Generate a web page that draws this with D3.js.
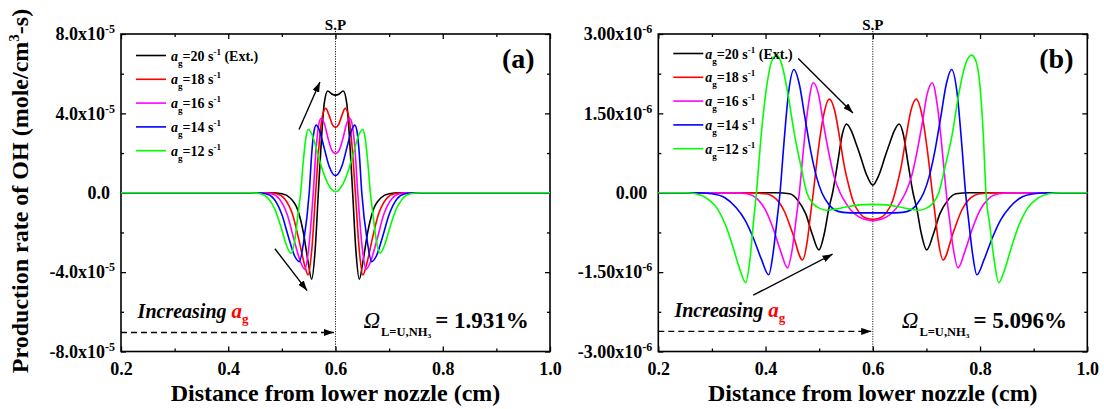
<!DOCTYPE html>
<html>
<head>
<meta charset="utf-8">
<script src="https://cdn.jsdelivr.net/npm/d3@7"></script>
<style>
  body { margin: 0; background: #fff; }
  svg text { font-family: "Liberation Serif", "Times New Roman", serif; font-weight: bold; fill: #000; }
</style>
</head>
<body>
<div id="chart"></div>
<script>
// =============================================
// data
// x in cm, y in 1e-5 (panel a) or 1e-6 (panel b) mole/cm3-s
const strainRates  = [20, 18, 16, 14, 12];
const seriesColors = ['#000000', '#ff0000', '#ff00ff', '#0000ff', '#00ff00'];

const ohA20 = [[0.2,0],[0.48,0],[0.50,-0.05],[0.515,-0.25],[0.53,-0.9],[0.54,-2.0],[0.549,-3.5],[0.5555,-4.36],[0.562,-2.9],[0.568,0],[0.574,2.8],[0.579,4.5],[0.5855,5.13],[0.593,4.98],[0.600,4.92],[0.607,4.98],[0.6145,5.13],[0.621,4.5],[0.626,2.8],[0.632,0],[0.638,-2.9],[0.6445,-4.36],[0.651,-3.5],[0.660,-2.0],[0.670,-0.9],[0.685,-0.25],[0.70,-0.05],[0.72,0],[1.0,0]];
const ohA18 = [[0.2,0],[0.47,0],[0.49,-0.05],[0.505,-0.3],[0.52,-1.1],[0.532,-2.4],[0.542,-3.6],[0.549,-4.14],[0.556,-2.8],[0.563,0],[0.569,2.3],[0.575,3.8],[0.582,4.25],[0.588,3.9],[0.594,3.45],[0.600,3.29],[0.606,3.45],[0.612,3.9],[0.618,4.25],[0.625,3.8],[0.631,2.3],[0.637,0],[0.644,-2.8],[0.651,-4.14],[0.658,-3.6],[0.668,-2.4],[0.680,-1.1],[0.695,-0.3],[0.71,-0.05],[0.73,0],[1.0,0]];
const ohA16 = [[0.2,0],[0.46,0],[0.48,-0.05],[0.495,-0.3],[0.51,-1.1],[0.523,-2.4],[0.535,-3.5],[0.543,-3.86],[0.550,-2.8],[0.5585,0],[0.564,2.3],[0.568,3.3],[0.573,3.74],[0.579,3.5],[0.586,2.75],[0.593,2.15],[0.600,1.98],[0.607,2.15],[0.614,2.75],[0.621,3.5],[0.627,3.74],[0.632,3.3],[0.636,2.3],[0.6415,0],[0.650,-2.8],[0.657,-3.86],[0.665,-3.5],[0.677,-2.4],[0.690,-1.1],[0.705,-0.3],[0.72,-0.05],[0.74,0],[1.0,0]];
const ohA14 = [[0.2,0],[0.45,0],[0.47,-0.05],[0.485,-0.3],[0.50,-1.1],[0.512,-2.2],[0.524,-3.2],[0.5325,-3.47],[0.541,-2.4],[0.551,0],[0.556,2.1],[0.560,3.1],[0.564,3.41],[0.570,3.15],[0.578,2.35],[0.588,1.35],[0.600,0.86],[0.612,1.35],[0.622,2.35],[0.630,3.15],[0.636,3.41],[0.640,3.1],[0.644,2.1],[0.649,0],[0.659,-2.4],[0.6675,-3.47],[0.676,-3.2],[0.688,-2.2],[0.700,-1.1],[0.715,-0.3],[0.73,-0.05],[0.75,0],[1.0,0]];
const ohA12 = [[0.2,0],[0.44,0],[0.46,-0.05],[0.475,-0.3],[0.488,-0.9],[0.498,-1.7],[0.508,-2.6],[0.517,-3.05],[0.524,-2.4],[0.530,-1.1],[0.535,0],[0.540,1.6],[0.545,2.8],[0.549,3.19],[0.556,2.95],[0.565,2.15],[0.574,1.3],[0.586,0.45],[0.600,0.05],[0.614,0.45],[0.626,1.3],[0.635,2.15],[0.644,2.95],[0.651,3.19],[0.655,2.8],[0.660,1.6],[0.665,0],[0.670,-1.1],[0.676,-2.4],[0.683,-3.05],[0.692,-2.6],[0.702,-1.7],[0.712,-0.9],[0.725,-0.3],[0.74,-0.05],[0.76,0],[1.0,0]];

const ohB20 = [[0.2,0],[0.42,0],[0.445,-0.02],[0.46,-0.14],[0.475,-0.4],[0.487,-0.78],[0.4995,-1.08],[0.51,-0.75],[0.518,-0.3],[0.525,0],[0.535,0.6],[0.543,1.1],[0.551,1.30],[0.560,1.17],[0.568,0.95],[0.576,0.72],[0.588,0.35],[0.600,0.145],[0.612,0.35],[0.624,0.72],[0.632,0.95],[0.640,1.17],[0.649,1.30],[0.657,1.1],[0.665,0.6],[0.675,0],[0.682,-0.3],[0.690,-0.75],[0.7005,-1.08],[0.713,-0.78],[0.725,-0.4],[0.74,-0.14],[0.755,-0.02],[0.78,0],[1.0,0]];
const ohB18 = [[0.2,0],[0.37,0],[0.40,-0.02],[0.42,-0.12],[0.435,-0.35],[0.45,-0.75],[0.469,-1.27],[0.478,-0.9],[0.484,-0.4],[0.489,0],[0.497,0.7],[0.507,1.4],[0.519,1.77],[0.529,1.55],[0.538,1.05],[0.547,0.5],[0.556,0.1],[0.563,-0.15],[0.575,-0.38],[0.588,-0.48],[0.600,-0.50],[0.612,-0.48],[0.625,-0.38],[0.637,-0.15],[0.644,0.1],[0.653,0.5],[0.662,1.05],[0.671,1.55],[0.681,1.77],[0.693,1.4],[0.703,0.7],[0.711,0],[0.716,-0.4],[0.722,-0.9],[0.731,-1.27],[0.75,-0.75],[0.765,-0.35],[0.78,-0.12],[0.80,-0.02],[0.83,0],[1.0,0]];
const ohB16 = [[0.2,0],[0.34,0],[0.365,-0.02],[0.385,-0.12],[0.40,-0.33],[0.415,-0.7],[0.428,-1.1],[0.441,-1.42],[0.450,-1.05],[0.457,-0.5],[0.463,0],[0.470,0.75],[0.479,1.6],[0.489,2.08],[0.499,1.85],[0.508,1.3],[0.518,0.75],[0.528,0.3],[0.539,0],[0.550,-0.2],[0.562,-0.36],[0.575,-0.46],[0.588,-0.51],[0.600,-0.53],[0.612,-0.51],[0.625,-0.46],[0.638,-0.36],[0.650,-0.2],[0.661,0],[0.672,0.3],[0.682,0.75],[0.692,1.3],[0.701,1.85],[0.711,2.08],[0.721,1.6],[0.730,0.75],[0.737,0],[0.743,-0.5],[0.750,-1.05],[0.759,-1.42],[0.772,-1.1],[0.785,-0.7],[0.80,-0.33],[0.815,-0.12],[0.835,-0.02],[0.86,0],[1.0,0]];
const ohB14 = [[0.2,0],[0.27,0],[0.30,-0.02],[0.325,-0.1],[0.345,-0.28],[0.362,-0.52],[0.377,-0.85],[0.392,-1.25],[0.406,-1.55],[0.414,-1.15],[0.421,-0.55],[0.427,0],[0.434,0.9],[0.443,1.9],[0.453,2.33],[0.463,2.05],[0.473,1.45],[0.484,0.8],[0.495,0.3],[0.505,0],[0.518,-0.22],[0.530,-0.33],[0.545,-0.37],[0.570,-0.38],[0.600,-0.38],[0.630,-0.38],[0.655,-0.37],[0.670,-0.33],[0.682,-0.22],[0.695,0],[0.705,0.3],[0.716,0.8],[0.727,1.45],[0.737,2.05],[0.747,2.33],[0.757,1.9],[0.766,0.9],[0.773,0],[0.779,-0.55],[0.786,-1.15],[0.794,-1.55],[0.808,-1.25],[0.823,-0.85],[0.838,-0.52],[0.855,-0.28],[0.875,-0.1],[0.90,-0.02],[0.93,0],[1.0,0]];
const ohB12 = [[0.2,0],[0.25,0],[0.27,-0.02],[0.29,-0.1],[0.31,-0.3],[0.325,-0.6],[0.34,-1.05],[0.352,-1.45],[0.363,-1.70],[0.371,-1.25],[0.377,-0.6],[0.383,0],[0.392,1.1],[0.402,2.0],[0.412,2.5],[0.421,2.60],[0.431,2.4],[0.442,1.85],[0.454,1.1],[0.466,0.5],[0.477,0],[0.490,-0.22],[0.502,-0.30],[0.514,-0.33],[0.530,-0.31],[0.550,-0.27],[0.575,-0.23],[0.600,-0.22],[0.625,-0.23],[0.650,-0.27],[0.670,-0.31],[0.686,-0.33],[0.698,-0.30],[0.710,-0.22],[0.723,0],[0.735,0.5],[0.748,1.1],[0.760,1.85],[0.772,2.4],[0.784,2.60],[0.792,2.5],[0.800,2.0],[0.806,1.1],[0.811,0],[0.818,-0.6],[0.826,-1.25],[0.835,-1.70],[0.846,-1.45],[0.858,-1.05],[0.873,-0.6],[0.888,-0.3],[0.908,-0.1],[0.928,-0.02],[0.95,0],[1.0,0]];

// ticks and labels
const xTicks  = [0.2, 0.4, 0.6, 0.8, 1.0];
const xMinor  = [0.3, 0.5, 0.7, 0.9];
const yTicksA = [-8, -4, 0, 4, 8];
const yMinorA = [-6, -2, 2, 6];
const yLabelsA = ['-8.0', '-4.0', '0.0', '4.0', '8.0'];
const yTicksB = [-3, -1.5, 0, 1.5, 3];
const yMinorB = [-2.25, -0.75, 0.75, 2.25];
const yLabelsB = ['-3.00', '-1.50', '0.00', '1.50', '3.00'];
const omegaA = '1.931%';
const omegaB = '5.096%';

// =============================================
// layout
const W = 1104, H = 409;
const plotW = 429, plotH = 317.5;

let svg = d3.select('#chart')
            .append('svg')
            .attr('width', W)
            .attr('height', H);

let defs = svg.append('defs');
defs.append('marker')
    .attr('id', 'head')
    .attr('viewBox', '0 0 10 7')
    .attr('refX', 10).attr('refY', 3.5)
    .attr('markerUnits', 'userSpaceOnUse')
    .attr('markerWidth', 10).attr('markerHeight', 7)
    .attr('orient', 'auto')
    .append('path').attr('d', 'M0,0 L10,3.5 L0,7 Z').attr('fill', '#000');

const panels = [
  { left: 121, top: 34, series: [ohA20, ohA18, ohA16, ohA14, ohA12],
    yDomain: [-8, 8], yTicks: yTicksA, yMinor: yMinorA, yLabels: yLabelsA, exp: '-5',
    tag: '(a)', omega: omegaA, legendY: 21.5, legendTextX: 50,
    arrows: [[[0.532, 3.19], [0.571, 5.58]], [[0.487, -2.82], [0.547, -4.93]]],
    dashY: -7.04, incPos: [0.231, -6.32], omegaPos: [0.652, -6.81] },
  { left: 658.3, top: 34, series: [ohB20, ohB18, ohB16, ohB14, ohB12],
    yDomain: [-3, 3], yTicks: yTicksB, yMinor: yMinorB, yLabels: yLabelsB, exp: '-6',
    tag: '(b)', omega: omegaB, legendY: 19.5, legendTextX: 47,
    arrows: [[[0.461, 2.536], [0.563, 1.509]], [[0.377, -1.936], [0.525, -1.162]]],
    dashY: -2.62, incPos: [0.230, -2.34], omegaPos: [0.654, -2.55] }
];

function styleAxis(sel) {
  sel.select('.domain').remove();
  sel.selectAll('.tick line').attr('stroke', '#000').attr('stroke-width', 1.3);
  sel.selectAll('.tick text').attr('font-size', 18).attr('fill', '#000')
     .attr('font-family', '"Liberation Serif", serif').attr('font-weight', 'bold');
}

function drawPanel(p) {
  let g = svg.append('g').attr('transform', `translate(${p.left},${p.top})`);
  let x = d3.scaleLinear().domain([0.2, 1.0]).range([0, plotW]);
  let y = d3.scaleLinear().domain(p.yDomain).range([plotH, 0]);

  // minor ticks on all four sides
  g.append('g').attr('transform', `translate(0,${plotH})`)
   .call(d3.axisBottom(x).tickValues(xMinor).tickSize(-3).tickFormat('')).call(styleAxis);
  g.append('g').call(d3.axisTop(x).tickValues(xMinor).tickSize(-3).tickFormat('')).call(styleAxis);
  g.append('g').call(d3.axisLeft(y).tickValues(p.yMinor).tickSize(-3).tickFormat('')).call(styleAxis);
  g.append('g').attr('transform', `translate(${plotW},0)`)
   .call(d3.axisRight(y).tickValues(p.yMinor).tickSize(-3).tickFormat('')).call(styleAxis);

  // major ticks
  g.append('g').attr('transform', `translate(0,${plotH})`)
   .call(d3.axisBottom(x).tickValues(xTicks).tickSize(-5).tickPadding(11).tickFormat(d3.format('.1f')))
   .call(styleAxis);
  g.append('g').call(d3.axisTop(x).tickValues(xTicks).tickSize(-5).tickFormat('')).call(styleAxis);
  g.append('g').attr('transform', `translate(${plotW},0)`)
   .call(d3.axisRight(y).tickValues(p.yTicks).tickSize(-5).tickFormat('')).call(styleAxis);

  let yAxis = g.append('g')
               .call(d3.axisLeft(y).tickValues(p.yTicks).tickSize(-5).tickPadding(6).tickFormat(''))
               .call(styleAxis);
  yAxis.selectAll('.tick text').each(function(d) {
    let t = d3.select(this);
    let lab = p.yLabels[p.yTicks.indexOf(d)];
    if (d === 0) {
      t.attr('x', -11).text(lab);
    } else {
      t.append('tspan').text(lab + 'x10');
      t.append('tspan').attr('font-size', 12).attr('dy', -7).text(p.exp);
    }
  });

  // frame
  g.append('rect')
   .attr('width', plotW).attr('height', plotH)
   .attr('fill', 'none').attr('stroke', '#000').attr('stroke-width', 1.6);

  // stagnation plane
  g.append('line')
   .attr('x1', x(0.6)).attr('x2', x(0.6)).attr('y1', -3).attr('y2', plotH)
   .attr('stroke', '#000').attr('stroke-width', 0.9).attr('stroke-dasharray', '1.2,1.3');
  g.append('text').attr('x', x(0.6)).attr('y', -4).attr('text-anchor', 'middle')
   .attr('font-size', 15).text('S.P');

  // curves
  let line = d3.line().x(d => x(d[0])).y(d => y(d[1])).curve(d3.curveMonotoneX);
  g.selectAll('.curve')
   .data(p.series)
   .join('path')
   .attr('class', 'curve')
   .attr('d', line)
   .attr('fill', 'none')
   .attr('stroke', (d, i) => seriesColors[i])
   .attr('stroke-width', 1.6);

  // legend
  strainRates.forEach(function(r, i) {
    let ly = p.legendY + i * 23.8;
    g.append('line').attr('x1', 15).attr('x2', 45).attr('y1', ly).attr('y2', ly)
     .attr('stroke', seriesColors[i]).attr('stroke-width', 1.6);
    let t = g.append('text').attr('x', p.legendTextX).attr('y', ly + 5).attr('font-size', 14);
    t.append('tspan').attr('font-style', 'italic').text('a');
    t.append('tspan').attr('font-size', 9).attr('dy', 5).text('g');
    t.append('tspan').attr('dy', -5).text('=' + r + ' s');
    t.append('tspan').attr('font-size', 9).attr('dy', -6).text('-1');
    if (i === 0) t.append('tspan').attr('dy', 6).text(' (Ext.)');
  });

  // panel tag
  g.append('text').attr('x', plotW - 48).attr('y', 34).attr('font-size', 28).text(p.tag);

  // trend arrows
  p.arrows.forEach(function(a) {
    g.append('line')
     .attr('x1', x(a[0][0])).attr('y1', y(a[0][1]))
     .attr('x2', x(a[1][0])).attr('y2', y(a[1][1]))
     .attr('stroke', '#000').attr('stroke-width', 1.4)
     .attr('marker-end', 'url(#head)');
  });

  // increasing a_g
  g.append('line')
   .attr('x1', x(0.2)).attr('x2', x(0.597)).attr('y1', y(p.dashY)).attr('y2', y(p.dashY))
   .attr('stroke', '#000').attr('stroke-width', 1.4).attr('stroke-dasharray', '6,4')
   .attr('marker-end', 'url(#head)');
  let inc = g.append('text').attr('x', x(p.incPos[0])).attr('y', y(p.incPos[1]))
             .attr('font-size', 20).attr('font-style', 'italic');
  inc.append('tspan').text('Increasing ');
  inc.append('tspan').attr('fill', '#ff0000').attr('font-size', 21).text('a');
  inc.append('tspan').attr('fill', '#ff0000').attr('font-style', 'normal')
     .attr('font-size', 13).attr('dy', 5).text('g');

  // omega
  let om = g.append('text').attr('x', x(p.omegaPos[0])).attr('y', y(p.omegaPos[1])).attr('font-size', 23);
  om.append('tspan').attr('font-style', 'italic').attr('font-weight', 'normal').text('Ω');
  om.append('tspan').attr('font-size', 12.5).attr('dx', 1).attr('dy', 8).text('L=U,NH₃');
  om.append('tspan').attr('dx', 4).attr('dy', -8).text('= ' + p.omega);
}

panels.forEach(drawPanel);

// axis titles
svg.append('text')
   .attr('x', 121 + plotW / 2).attr('y', 401).attr('text-anchor', 'middle')
   .attr('font-size', 24).text('Distance from lower nozzle (cm)');
svg.append('text')
   .attr('x', 658.3 + plotW / 2).attr('y', 401).attr('text-anchor', 'middle')
   .attr('font-size', 24).text('Distance from lower nozzle (cm)');

let yt = svg.append('text')
            .attr('transform', 'translate(28,191) rotate(-90)')
            .attr('text-anchor', 'middle').attr('font-size', 24);
yt.append('tspan').text('Production rate of OH (mole/cm');
yt.append('tspan').attr('font-size', 15).attr('dy', -9).text('3');
yt.append('tspan').attr('dy', 9).text('-s)');
</script>
</body>
</html>
